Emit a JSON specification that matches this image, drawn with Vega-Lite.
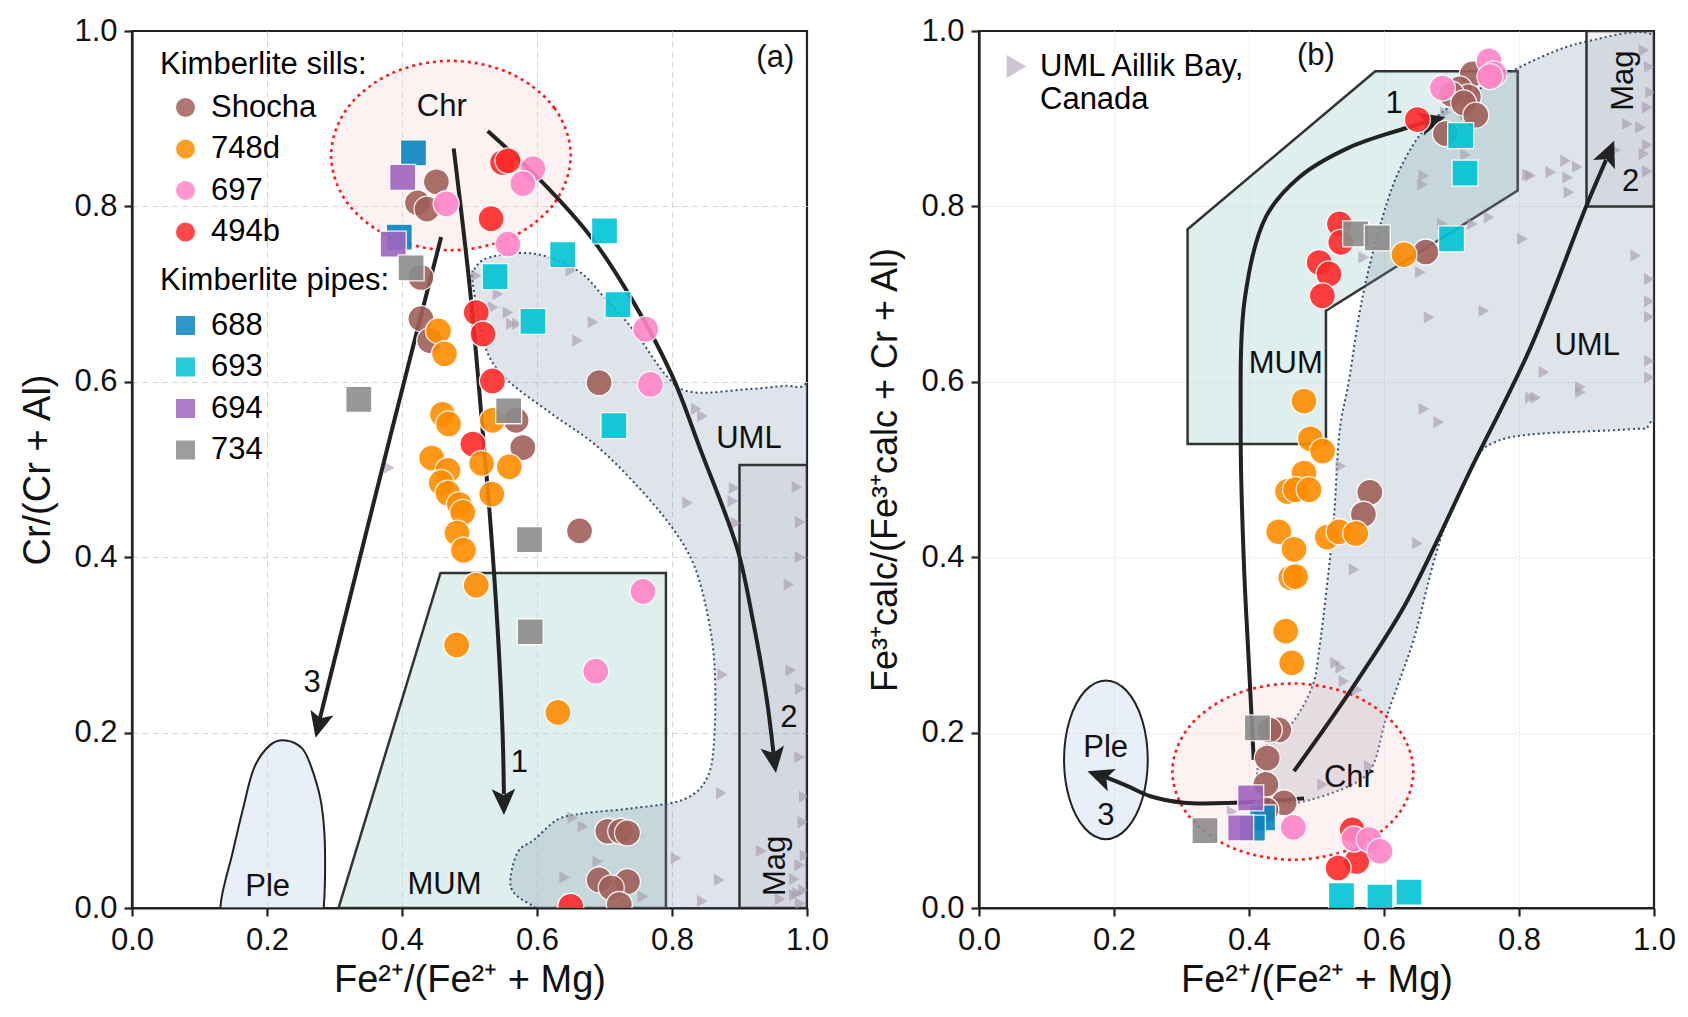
{
  "$schema": "https://vega.github.io/schema/vega-lite/v6.json",
  "background": "white",
  "padding": {"left": 18, "top": 13, "right": 5, "bottom": 5},
  "spacing": 36,
  "config": {
    "font": "Liberation Sans",
    "view": {"stroke": "#222222", "strokeWidth": 2.2},
    "axis": {
      "labelFont": "Liberation Sans", "labelFontSize": 31, "labelColor": "#111111",
      "titleFont": "Liberation Sans", "titleFontSize": 38, "titleFontWeight": "normal", "titleColor": "#111111",
      "domainColor": "#222222", "domainWidth": 2.2, "tickColor": "#222222", "tickWidth": 2.2, "tickSize": 8,
      "labelFlush": false, "labelOverlap": false,
      "gridOpacity": {"condition": {"test": "datum.value <= 0.001 || datum.value >= 0.999", "value": 0}, "value": 1}
    },
    "axisX": {"labelPadding": 9, "titlePadding": 6},
    "axisY": {"labelPadding": 7, "titlePadding": 16},
    "legend": {
      "titleFont": "Liberation Sans", "titleFontSize": 31, "titleFontWeight": "normal", "titleColor": "#000000",
      "labelFont": "Liberation Sans", "labelFontSize": 31, "labelColor": "#000000",
      "symbolSize": 420, "rowPadding": 9.5, "titlePadding": 11, "padding": 0,
      "symbolOffset": 10, "labelOffset": 10, "symbolOpacity": 0.85, "titleLimit": 500, "labelLimit": 500
    },
    "text": {"font": "Liberation Sans", "fontSize": 31, "color": "#111111"}
  },
  "datasets": {
    "pts_a": [
      {"sample":"Shocha","x":0.451,"y":0.828},{"sample":"Shocha","x":0.423,"y":0.804},{"sample":"Shocha","x":0.437,"y":0.797},
      {"sample":"Shocha","x":0.428,"y":0.719},{"sample":"Shocha","x":0.428,"y":0.672},{"sample":"Shocha","x":0.441,"y":0.647},
      {"sample":"Shocha","x":0.692,"y":0.599},{"sample":"Shocha","x":0.569,"y":0.556},{"sample":"Shocha","x":0.579,"y":0.525},
      {"sample":"Shocha","x":0.663,"y":0.430},{"sample":"Shocha","x":0.705,"y":0.0875},{"sample":"Shocha","x":0.724,"y":0.0875},
      {"sample":"Shocha","x":0.734,"y":0.0856},{"sample":"Shocha","x":0.692,"y":0.032},{"sample":"Shocha","x":0.734,"y":0.030},
      {"sample":"Shocha","x":0.710,"y":0.023},{"sample":"Shocha","x":0.722,"y":0.004},
      {"sample":"494b","x":0.549,"y":0.850},{"sample":"494b","x":0.557,"y":0.852},{"sample":"494b","x":0.532,"y":0.786},
      {"sample":"494b","x":0.510,"y":0.679},{"sample":"494b","x":0.520,"y":0.6545},{"sample":"494b","x":0.534,"y":0.601},
      {"sample":"494b","x":0.505,"y":0.529},{"sample":"494b","x":0.650,"y":0.002},
      {"sample":"748d","x":0.454,"y":0.658},{"sample":"748d","x":0.463,"y":0.632},{"sample":"748d","x":0.460,"y":0.563},
      {"sample":"748d","x":0.469,"y":0.552},{"sample":"748d","x":0.534,"y":0.556},{"sample":"748d","x":0.444,"y":0.513},
      {"sample":"748d","x":0.468,"y":0.499},{"sample":"748d","x":0.458,"y":0.485},{"sample":"748d","x":0.468,"y":0.473},
      {"sample":"748d","x":0.485,"y":0.460},{"sample":"748d","x":0.490,"y":0.451},{"sample":"748d","x":0.4815,"y":0.4275},
      {"sample":"748d","x":0.491,"y":0.408},{"sample":"748d","x":0.518,"y":0.507},{"sample":"748d","x":0.559,"y":0.503},
      {"sample":"748d","x":0.533,"y":0.472},{"sample":"748d","x":0.510,"y":0.368},{"sample":"748d","x":0.481,"y":0.300},
      {"sample":"748d","x":0.631,"y":0.223},
      {"sample":"697","x":0.4654,"y":0.803},{"sample":"697","x":0.594,"y":0.843},{"sample":"697","x":0.579,"y":0.826},
      {"sample":"697","x":0.557,"y":0.757},{"sample":"697","x":0.761,"y":0.660},{"sample":"697","x":0.768,"y":0.597},
      {"sample":"697","x":0.757,"y":0.361},{"sample":"697","x":0.687,"y":0.270},
      {"sample":"688","x":0.417,"y":0.861},{"sample":"688","x":0.396,"y":0.765},
      {"sample":"693","x":0.538,"y":0.720},{"sample":"693","x":0.638,"y":0.745},{"sample":"693","x":0.700,"y":0.772},
      {"sample":"693","x":0.594,"y":0.669},{"sample":"693","x":0.720,"y":0.688},{"sample":"693","x":0.714,"y":0.550},
      {"sample":"694","x":0.401,"y":0.833},{"sample":"694","x":0.387,"y":0.757},
      {"sample":"734","x":0.4135,"y":0.730},{"sample":"734","x":0.336,"y":0.580},{"sample":"734","x":0.558,"y":0.567},
      {"sample":"734","x":0.589,"y":0.420},{"sample":"734","x":0.590,"y":0.315}
    ],
    "pts_b": [
      {"sample":"Shocha","x":0.731,"y":0.951},{"sample":"Shocha","x":0.712,"y":0.934},{"sample":"Shocha","x":0.725,"y":0.925},
      {"sample":"Shocha","x":0.700,"y":0.928},{"sample":"Shocha","x":0.718,"y":0.918},{"sample":"Shocha","x":0.736,"y":0.904},
      {"sample":"Shocha","x":0.691,"y":0.883},{"sample":"Shocha","x":0.662,"y":0.748},{"sample":"Shocha","x":0.579,"y":0.474},
      {"sample":"Shocha","x":0.5695,"y":0.449},{"sample":"Shocha","x":0.444,"y":0.203},{"sample":"Shocha","x":0.430,"y":0.203},
      {"sample":"Shocha","x":0.427,"y":0.171},{"sample":"Shocha","x":0.425,"y":0.141},{"sample":"Shocha","x":0.452,"y":0.120},
      {"sample":"Shocha","x":0.425,"y":0.112},
      {"sample":"494b","x":0.6495,"y":0.899},{"sample":"494b","x":0.534,"y":0.780},{"sample":"494b","x":0.536,"y":0.759},
      {"sample":"494b","x":0.504,"y":0.736},{"sample":"494b","x":0.5185,"y":0.723},{"sample":"494b","x":0.5087,"y":0.698},
      {"sample":"494b","x":0.553,"y":0.089},{"sample":"494b","x":0.5596,"y":0.053},{"sample":"494b","x":0.532,"y":0.0456},
      {"sample":"748d","x":0.6296,"y":0.745},{"sample":"748d","x":0.4815,"y":0.578},{"sample":"748d","x":0.491,"y":0.535},
      {"sample":"748d","x":0.509,"y":0.521},{"sample":"748d","x":0.4815,"y":0.496},{"sample":"748d","x":0.457,"y":0.475},
      {"sample":"748d","x":0.469,"y":0.477},{"sample":"748d","x":0.489,"y":0.477},{"sample":"748d","x":0.444,"y":0.429},
      {"sample":"748d","x":0.4667,"y":0.409},{"sample":"748d","x":0.4619,"y":0.3765},{"sample":"748d","x":0.469,"y":0.378},
      {"sample":"748d","x":0.516,"y":0.423},{"sample":"748d","x":0.5333,"y":0.429},{"sample":"748d","x":0.5581,"y":0.427},
      {"sample":"748d","x":0.4544,"y":0.3157},{"sample":"748d","x":0.4633,"y":0.2795},
      {"sample":"697","x":0.7556,"y":0.966},{"sample":"697","x":0.763,"y":0.951},{"sample":"697","x":0.757,"y":0.948},
      {"sample":"697","x":0.6865,"y":0.935},{"sample":"697","x":0.4657,"y":0.092},{"sample":"697","x":0.5556,"y":0.0787},
      {"sample":"697","x":0.578,"y":0.078},{"sample":"697","x":0.594,"y":0.0647},
      {"sample":"688","x":0.420,"y":0.1027},{"sample":"688","x":0.405,"y":0.091},
      {"sample":"693","x":0.7136,"y":0.8807},{"sample":"693","x":0.720,"y":0.838},{"sample":"693","x":0.700,"y":0.763},
      {"sample":"693","x":0.537,"y":0.014},{"sample":"693","x":0.594,"y":0.0125},{"sample":"693","x":0.637,"y":0.018},
      {"sample":"694","x":0.4025,"y":0.1255},{"sample":"694","x":0.3877,"y":0.0913},
      {"sample":"734","x":0.4124,"y":0.2054},{"sample":"734","x":0.3348,"y":0.0882},{"sample":"734","x":0.558,"y":0.7686},
      {"sample":"734","x":0.590,"y":0.764}
    ],
    "uml_a": [
      {"x":0.510,"y":0.721},{"x":0.542,"y":0.700},{"x":0.535,"y":0.685},{"x":0.557,"y":0.679},{"x":0.562,"y":0.666},
      {"x":0.571,"y":0.666},{"x":0.650,"y":0.727},{"x":0.683,"y":0.668},{"x":0.660,"y":0.647},{"x":0.836,"y":0.569},
      {"x":0.845,"y":0.561},{"x":0.381,"y":0.502},{"x":0.823,"y":0.462},{"x":0.892,"y":0.479},{"x":0.890,"y":0.464},
      {"x":0.895,"y":0.439},{"x":0.875,"y":0.266},{"x":0.873,"y":0.131},{"x":0.653,"y":0.103},{"x":0.668,"y":0.093},
      {"x":0.690,"y":0.053},{"x":0.641,"y":0.035},{"x":0.757,"y":0.013},{"x":0.806,"y":0.057},{"x":0.870,"y":0.032},
      {"x":0.845,"y":0.008},{"x":0.932,"y":0.065},{"x":0.981,"y":0.033},{"x":0.986,"y":0.017},{"x":0.996,"y":0.127},
      {"x":0.749,"y":0.082},{"x":0.973,"y":0.369},{"x":0.976,"y":0.271},{"x":0.989,"y":0.172},{"x":0.994,"y":0.098},
      {"x":0.989,"y":0.049},{"x":0.981,"y":0.015},{"x":0.995,"y":0.020},{"x":0.990,"y":0.005},{"x":0.997,"y":0.060},
      {"x":0.960,"y":0.010},{"x":0.990,"y":0.400},{"x":0.990,"y":0.440},{"x":0.985,"y":0.480},{"x":0.990,"y":0.250}
    ],
    "uml_b": [
      {"x":0.691,"y":0.907},{"x":0.659,"y":0.835},{"x":0.657,"y":0.825},{"x":0.721,"y":0.859},{"x":0.8125,"y":0.836},
      {"x":0.7556,"y":0.7876},{"x":0.731,"y":0.780},{"x":0.805,"y":0.763},{"x":0.654,"y":0.725},{"x":0.570,"y":0.742},
      {"x":0.6667,"y":0.6735},{"x":0.748,"y":0.681},{"x":0.659,"y":0.569},{"x":0.681,"y":0.554},{"x":0.6865,"y":0.780},
      {"x":0.825,"y":0.582},{"x":0.985,"y":0.978},{"x":0.993,"y":0.959},{"x":0.990,"y":0.913},{"x":0.9605,"y":0.894},
      {"x":0.980,"y":0.890},{"x":0.985,"y":0.860},{"x":0.943,"y":0.864},{"x":0.869,"y":0.852},{"x":0.8865,"y":0.845},
      {"x":0.847,"y":0.839},{"x":0.872,"y":0.833},{"x":0.874,"y":0.816},{"x":0.817,"y":0.835},{"x":0.973,"y":0.744},
      {"x":0.993,"y":0.717},{"x":0.993,"y":0.692},{"x":0.993,"y":0.674},{"x":0.993,"y":0.624},{"x":0.993,"y":0.605},
      {"x":0.837,"y":0.611},{"x":0.891,"y":0.594},{"x":0.891,"y":0.588},{"x":0.817,"y":0.582},{"x":0.536,"y":0.504},
      {"x":0.6495,"y":0.416},{"x":0.5556,"y":0.386},{"x":0.528,"y":0.2795},{"x":0.536,"y":0.274},{"x":0.5407,"y":0.2586},
      {"x":0.5605,"y":0.249},{"x":0.578,"y":0.1617},{"x":0.509,"y":0.1407},{"x":0.375,"y":0.110},{"x":0.990,"y":0.870},
      {"x":0.990,"y":0.840},{"x":0.995,"y":0.930},{"x":0.720,"y":0.905}
    ],
    "regions": [
      {"shape":"Ple_a","i":1,"x":0.228,"y":0.191},{"shape":"Ple_a","i":2,"x":0.252,"y":0.182},{"shape":"Ple_a","i":3,"x":0.265,"y":0.162},
      {"shape":"Ple_a","i":4,"x":0.279,"y":0.125},{"shape":"Ple_a","i":5,"x":0.285,"y":0.086},{"shape":"Ple_a","i":6,"x":0.286,"y":0.040},
      {"shape":"Ple_a","i":7,"x":0.284,"y":0.0},{"shape":"Ple_a","i":8,"x":0.278,"y":-0.04},{"shape":"Ple_a","i":9,"x":0.21,"y":-0.065},
      {"shape":"Ple_a","i":10,"x":0.145,"y":-0.045},{"shape":"Ple_a","i":11,"x":0.131,"y":0.0},{"shape":"Ple_a","i":12,"x":0.149,"y":0.063},
      {"shape":"Ple_a","i":13,"x":0.165,"y":0.115},{"shape":"Ple_a","i":14,"x":0.181,"y":0.160},{"shape":"Ple_a","i":15,"x":0.205,"y":0.186},
      {"shape":"MUM_a","i":1,"x":0.306,"y":0.0},{"shape":"MUM_a","i":2,"x":0.457,"y":0.382},{"shape":"MUM_a","i":3,"x":0.791,"y":0.382},
      {"shape":"MUM_a","i":4,"x":0.791,"y":0.0},
      {"shape":"UML_a","i":1,"x":0.505,"y":0.712},{"shape":"UML_a","i":2,"x":0.507,"y":0.728},{"shape":"UML_a","i":3,"x":0.530,"y":0.742},
      {"shape":"UML_a","i":4,"x":0.596,"y":0.746},{"shape":"UML_a","i":5,"x":0.660,"y":0.727},{"shape":"UML_a","i":6,"x":0.700,"y":0.696},
      {"shape":"UML_a","i":7,"x":0.744,"y":0.658},{"shape":"UML_a","i":8,"x":0.794,"y":0.605},{"shape":"UML_a","i":9,"x":0.833,"y":0.588},
      {"shape":"UML_a","i":10,"x":0.920,"y":0.592},{"shape":"UML_a","i":11,"x":0.985,"y":0.594},{"shape":"UML_a","i":12,"x":1.01,"y":0.57},
      {"shape":"UML_a","i":13,"x":1.01,"y":0.30},{"shape":"UML_a","i":14,"x":1.01,"y":-0.01},{"shape":"UML_a","i":15,"x":0.80,"y":-0.01},
      {"shape":"UML_a","i":16,"x":0.631,"y":-0.005},{"shape":"UML_a","i":17,"x":0.586,"y":0.006},{"shape":"UML_a","i":18,"x":0.561,"y":0.025},
      {"shape":"UML_a","i":19,"x":0.571,"y":0.063},{"shape":"UML_a","i":20,"x":0.596,"y":0.078},{"shape":"UML_a","i":21,"x":0.631,"y":0.101},
      {"shape":"UML_a","i":22,"x":0.670,"y":0.108},{"shape":"UML_a","i":23,"x":0.744,"y":0.114},{"shape":"UML_a","i":24,"x":0.818,"y":0.124},
      {"shape":"UML_a","i":25,"x":0.853,"y":0.150},{"shape":"UML_a","i":26,"x":0.863,"y":0.200},{"shape":"UML_a","i":27,"x":0.863,"y":0.276},
      {"shape":"UML_a","i":28,"x":0.853,"y":0.333},{"shape":"UML_a","i":29,"x":0.833,"y":0.390},{"shape":"UML_a","i":30,"x":0.799,"y":0.435},
      {"shape":"UML_a","i":31,"x":0.744,"y":0.485},{"shape":"UML_a","i":32,"x":0.685,"y":0.529},{"shape":"UML_a","i":33,"x":0.621,"y":0.564},
      {"shape":"UML_a","i":34,"x":0.552,"y":0.605},{"shape":"UML_a","i":35,"x":0.522,"y":0.643},
      {"shape":"Mag_a","i":1,"x":0.9,"y":0.0},{"shape":"Mag_a","i":2,"x":0.9,"y":0.505},{"shape":"Mag_a","i":3,"x":1.0,"y":0.505},
      {"shape":"Mag_a","i":4,"x":1.0,"y":0.0},
      {"shape":"Chr_a","i":1,"x":0.650,"y":0.858},{"shape":"Chr_a","i":2,"x":0.626,"y":0.912},{"shape":"Chr_a","i":3,"x":0.561,"y":0.9515},
      {"shape":"Chr_a","i":4,"x":0.4725,"y":0.966},{"shape":"Chr_a","i":5,"x":0.384,"y":0.9515},{"shape":"Chr_a","i":6,"x":0.319,"y":0.912},
      {"shape":"Chr_a","i":7,"x":0.295,"y":0.858},{"shape":"Chr_a","i":8,"x":0.319,"y":0.804},{"shape":"Chr_a","i":9,"x":0.384,"y":0.7645},
      {"shape":"Chr_a","i":10,"x":0.4725,"y":0.750},{"shape":"Chr_a","i":11,"x":0.561,"y":0.7645},{"shape":"Chr_a","i":12,"x":0.626,"y":0.804},
      {"shape":"MUM_b","i":1,"x":0.309,"y":0.774},{"shape":"MUM_b","i":2,"x":0.587,"y":0.954},{"shape":"MUM_b","i":3,"x":0.798,"y":0.954},
      {"shape":"MUM_b","i":4,"x":0.798,"y":0.818},{"shape":"MUM_b","i":5,"x":0.514,"y":0.681},{"shape":"MUM_b","i":6,"x":0.514,"y":0.529},
      {"shape":"MUM_b","i":7,"x":0.309,"y":0.529},
      {"shape":"UML_b","i":1,"x":0.994,"y":0.997},{"shape":"UML_b","i":2,"x":0.90,"y":0.988},{"shape":"UML_b","i":3,"x":0.832,"y":0.970},
      {"shape":"UML_b","i":4,"x":0.746,"y":0.936},{"shape":"UML_b","i":5,"x":0.672,"y":0.898},{"shape":"UML_b","i":6,"x":0.627,"y":0.848},
      {"shape":"UML_b","i":7,"x":0.598,"y":0.788},{"shape":"UML_b","i":8,"x":0.568,"y":0.696},{"shape":"UML_b","i":9,"x":0.548,"y":0.601},
      {"shape":"UML_b","i":10,"x":0.534,"y":0.542},{"shape":"UML_b","i":11,"x":0.526,"y":0.447},{"shape":"UML_b","i":12,"x":0.516,"y":0.371},
      {"shape":"UML_b","i":13,"x":0.504,"y":0.295},{"shape":"UML_b","i":14,"x":0.494,"y":0.253},{"shape":"UML_b","i":15,"x":0.464,"y":0.211},
      {"shape":"UML_b","i":16,"x":0.430,"y":0.190},{"shape":"UML_b","i":17,"x":0.412,"y":0.155},{"shape":"UML_b","i":18,"x":0.425,"y":0.127},
      {"shape":"UML_b","i":19,"x":0.470,"y":0.120},{"shape":"UML_b","i":20,"x":0.548,"y":0.139},{"shape":"UML_b","i":21,"x":0.583,"y":0.162},
      {"shape":"UML_b","i":22,"x":0.6025,"y":0.215},{"shape":"UML_b","i":23,"x":0.627,"y":0.268},{"shape":"UML_b","i":24,"x":0.647,"y":0.314},
      {"shape":"UML_b","i":25,"x":0.672,"y":0.390},{"shape":"UML_b","i":26,"x":0.696,"y":0.447},{"shape":"UML_b","i":27,"x":0.736,"y":0.511},
      {"shape":"UML_b","i":28,"x":0.761,"y":0.530},{"shape":"UML_b","i":29,"x":0.817,"y":0.540},{"shape":"UML_b","i":30,"x":0.965,"y":0.546},
      {"shape":"UML_b","i":31,"x":0.993,"y":0.552},{"shape":"UML_b","i":32,"x":1.005,"y":0.60},{"shape":"UML_b","i":33,"x":1.005,"y":0.95},
      {"shape":"Mag_b","i":1,"x":0.9,"y":0.8},{"shape":"Mag_b","i":2,"x":0.9,"y":1.0},{"shape":"Mag_b","i":3,"x":1.0,"y":1.0},
      {"shape":"Mag_b","i":4,"x":1.0,"y":0.8},
      {"shape":"Ple_b","i":1,"x":0.250,"y":0.169},{"shape":"Ple_b","i":2,"x":0.2417,"y":0.2143},{"shape":"Ple_b","i":3,"x":0.219,"y":0.2474},
      {"shape":"Ple_b","i":4,"x":0.188,"y":0.2595},{"shape":"Ple_b","i":5,"x":0.157,"y":0.2474},{"shape":"Ple_b","i":6,"x":0.1343,"y":0.2143},
      {"shape":"Ple_b","i":7,"x":0.126,"y":0.169},{"shape":"Ple_b","i":8,"x":0.1343,"y":0.1237},{"shape":"Ple_b","i":9,"x":0.157,"y":0.0906},
      {"shape":"Ple_b","i":10,"x":0.188,"y":0.0785},{"shape":"Ple_b","i":11,"x":0.219,"y":0.0906},{"shape":"Ple_b","i":12,"x":0.2417,"y":0.1237},
      {"shape":"Chr_b","i":1,"x":0.6435,"y":0.1555},{"shape":"Chr_b","i":2,"x":0.6196,"y":0.2058},{"shape":"Chr_b","i":3,"x":0.5543,"y":0.2425},
      {"shape":"Chr_b","i":4,"x":0.465,"y":0.256},{"shape":"Chr_b","i":5,"x":0.3757,"y":0.2425},{"shape":"Chr_b","i":6,"x":0.3104,"y":0.2058},
      {"shape":"Chr_b","i":7,"x":0.2865,"y":0.1555},{"shape":"Chr_b","i":8,"x":0.3104,"y":0.1052},{"shape":"Chr_b","i":9,"x":0.3757,"y":0.0685},
      {"shape":"Chr_b","i":10,"x":0.465,"y":0.055},{"shape":"Chr_b","i":11,"x":0.5543,"y":0.0685},{"shape":"Chr_b","i":12,"x":0.6196,"y":0.1052}
    ],
    "arrows": [
      {"panel":"a","arrow":"a1","i":1,"x":0.4766,"y":0.866},{"panel":"a","arrow":"a1","i":2,"x":0.502,"y":0.696},
      {"panel":"a","arrow":"a1","i":3,"x":0.522,"y":0.521},{"panel":"a","arrow":"a1","i":4,"x":0.5295,"y":0.454},
      {"panel":"a","arrow":"a1","i":5,"x":0.542,"y":0.314},{"panel":"a","arrow":"a1","i":6,"x":0.549,"y":0.200},
      {"panel":"a","arrow":"a1","i":7,"x":0.551,"y":0.130},
      {"panel":"a","arrow":"a2","i":1,"x":0.527,"y":0.886},{"panel":"a","arrow":"a2","i":2,"x":0.606,"y":0.829},
      {"panel":"a","arrow":"a2","i":3,"x":0.680,"y":0.765},{"panel":"a","arrow":"a2","i":4,"x":0.739,"y":0.696},
      {"panel":"a","arrow":"a2","i":5,"x":0.799,"y":0.609},{"panel":"a","arrow":"a2","i":6,"x":0.843,"y":0.521},
      {"panel":"a","arrow":"a2","i":7,"x":0.897,"y":0.409},{"panel":"a","arrow":"a2","i":8,"x":0.9196,"y":0.329},
      {"panel":"a","arrow":"a2","i":9,"x":0.940,"y":0.240},{"panel":"a","arrow":"a2","i":10,"x":0.951,"y":0.172},
      {"panel":"a","arrow":"a3","i":1,"x":0.458,"y":0.765},{"panel":"a","arrow":"a3","i":2,"x":0.384,"y":0.542},
      {"panel":"a","arrow":"a3","i":3,"x":0.278,"y":0.215},
      {"panel":"b","arrow":"b1","i":1,"x":0.407,"y":0.169},{"panel":"b","arrow":"b1","i":2,"x":0.400,"y":0.276},
      {"panel":"b","arrow":"b1","i":3,"x":0.3926,"y":0.390},{"panel":"b","arrow":"b1","i":4,"x":0.3877,"y":0.542},
      {"panel":"b","arrow":"b1","i":5,"x":0.394,"y":0.696},{"panel":"b","arrow":"b1","i":6,"x":0.425,"y":0.788},
      {"panel":"b","arrow":"b1","i":7,"x":0.474,"y":0.833},{"panel":"b","arrow":"b1","i":8,"x":0.548,"y":0.867},
      {"panel":"b","arrow":"b1","i":9,"x":0.627,"y":0.888},{"panel":"b","arrow":"b1","i":10,"x":0.670,"y":0.898},
      {"panel":"b","arrow":"b2","i":1,"x":0.4667,"y":0.156},{"panel":"b","arrow":"b2","i":2,"x":0.548,"y":0.245},
      {"panel":"b","arrow":"b2","i":3,"x":0.627,"y":0.340},{"panel":"b","arrow":"b2","i":4,"x":0.677,"y":0.416},
      {"panel":"b","arrow":"b2","i":5,"x":0.726,"y":0.496},{"panel":"b","arrow":"b2","i":6,"x":0.817,"y":0.639},
      {"panel":"b","arrow":"b2","i":7,"x":0.899,"y":0.799},{"panel":"b","arrow":"b2","i":8,"x":0.929,"y":0.853},
      {"panel":"b","arrow":"b3","i":1,"x":0.4815,"y":0.125},{"panel":"b","arrow":"b3","i":2,"x":0.430,"y":0.122},
      {"panel":"b","arrow":"b3","i":3,"x":0.380,"y":0.120},{"panel":"b","arrow":"b3","i":4,"x":0.3037,"y":0.120},
      {"panel":"b","arrow":"b3","i":5,"x":0.254,"y":0.1274},{"panel":"b","arrow":"b3","i":6,"x":0.220,"y":0.139},
      {"panel":"b","arrow":"b3","i":7,"x":0.185,"y":0.150}
    ],
    "heads": [
      {"panel":"a","arrow":"a1","x":0.551,"y":0.106,"dir":179},
      {"panel":"a","arrow":"a2","x":0.954,"y":0.154,"dir":172},
      {"panel":"a","arrow":"a3","x":0.272,"y":0.194,"dir":194},
      {"panel":"b","arrow":"b1","x":0.691,"y":0.902,"dir":74},
      {"panel":"b","arrow":"b2","x":0.941,"y":0.875,"dir":23},
      {"panel":"b","arrow":"b3","x":0.1606,"y":0.156,"dir":290}
    ],
    "labels": [
      {"panel":"a","label":"Chr","x":0.459,"y":0.913},{"panel":"a","label":"(a)","x":0.953,"y":0.969},
      {"panel":"a","label":"UML","x":0.914,"y":0.535},{"panel":"a","label":"MUM","x":0.463,"y":0.026},
      {"panel":"a","label":"Ple","x":0.201,"y":0.024},{"panel":"a","label":"1","x":0.574,"y":0.165},
      {"panel":"a","label":"2","x":0.973,"y":0.217},{"panel":"a","label":"3","x":0.267,"y":0.257},
      {"panel":"a","label":"Mag","x":0.954,"y":0.048},
      {"panel":"b","label":"(b)","x":0.499,"y":0.972},{"panel":"b","label":"UML","x":0.901,"y":0.641},
      {"panel":"b","label":"Chr","x":0.548,"y":0.148},{"panel":"b","label":"MUM","x":0.4545,"y":0.620},
      {"panel":"b","label":"Ple","x":0.1877,"y":0.1825},{"panel":"b","label":"1","x":0.615,"y":0.917},
      {"panel":"b","label":"2","x":0.9655,"y":0.8275},{"panel":"b","label":"3","x":0.188,"y":0.1046},
      {"panel":"b","label":"Mag","x":0.955,"y":0.9435}
    ]
  },
  "hconcat": [
    {
      "width": 675,
      "height": 877,
      "encoding": {
        "x": {"field": "x", "type": "quantitative", "scale": {"domain": [0, 1], "nice": false, "zero": false},
              "axis": {"title": "Fe²⁺/(Fe²⁺ + Mg)", "values": [0, 0.2, 0.4, 0.6, 0.8, 1], "format": ".1f", "gridDash": [6, 4], "gridColor": "#d6d6d6", "gridWidth": 1}},
        "y": {"field": "y", "type": "quantitative", "scale": {"domain": [0, 1], "nice": false, "zero": false},
              "axis": {"title": "Cr/(Cr + Al)", "values": [0, 0.2, 0.4, 0.6, 0.8, 1], "format": ".1f", "gridDash": [6, 4], "gridColor": "#d6d6d6", "gridWidth": 1}}
      },
      "layer": [
        {"data": {"name": "regions"}, "transform": [{"filter": "datum.shape === 'Ple_a'"}],
         "mark": {"type": "line", "interpolate": "cardinal-closed", "fill": "#c8d6f0", "fillOpacity": 0.4, "stroke": "#222222", "strokeWidth": 2, "clip": true},
         "encoding": {"order": {"field": "i", "type": "quantitative"}}},
        {"data": {"name": "regions"}, "transform": [{"filter": "datum.shape === 'MUM_a'"}],
         "mark": {"type": "line", "interpolate": "linear-closed", "fill": "#b5dcd6", "fillOpacity": 0.45, "stroke": "#333333", "strokeWidth": 2.5, "clip": true},
         "encoding": {"order": {"field": "i", "type": "quantitative"}}},
        {"data": {"name": "regions"}, "transform": [{"filter": "datum.shape === 'UML_a'"}],
         "mark": {"type": "line", "interpolate": "cardinal-closed", "fill": "#8493ae", "fillOpacity": 0.26, "stroke": "#2d4a6a", "strokeWidth": 2, "strokeDash": [2, 3], "clip": true},
         "encoding": {"order": {"field": "i", "type": "quantitative"}}},
        {"data": {"name": "regions"}, "transform": [{"filter": "datum.shape === 'Mag_a'"}],
         "mark": {"type": "line", "interpolate": "linear-closed", "fill": "#8a8f9a", "fillOpacity": 0.12, "stroke": "#333333", "strokeWidth": 2.5, "clip": true},
         "encoding": {"order": {"field": "i", "type": "quantitative"}}},
        {"data": {"name": "regions"}, "transform": [{"filter": "datum.shape === 'Chr_a'"}],
         "mark": {"type": "line", "interpolate": "cardinal-closed", "fill": "#f8c8c8", "fillOpacity": 0.25, "stroke": "#ff1a1a", "strokeWidth": 2.6, "strokeDash": [3, 4], "clip": true},
         "encoding": {"order": {"field": "i", "type": "quantitative"}}},
        {"data": {"name": "uml_a"},
         "mark": {"type": "point", "shape": "triangle-right", "filled": true, "size": 150, "color": "#a796ad", "opacity": 0.6, "clip": true}},
        {"data": {"name": "arrows"}, "transform": [{"filter": "datum.panel === 'a'"}],
         "mark": {"type": "line", "interpolate": "catmull-rom", "stroke": "#222222", "strokeWidth": 4, "clip": true},
         "encoding": {"detail": {"field": "arrow"}, "order": {"field": "i", "type": "quantitative"}}},
        {"data": {"name": "heads"}, "transform": [{"filter": "datum.panel === 'a'"}],
         "mark": {"type": "point", "shape": "M0,0L0.5,1.1L0,0.85L-0.5,1.1Z", "filled": true, "size": 2240, "color": "#222222", "opacity": 1},
         "encoding": {"angle": {"field": "dir", "type": "quantitative", "scale": null}}},
        {"data": {"name": "pts_a"}, "transform": [{"filter": {"field": "sample", "oneOf": ["Shocha", "748d", "697", "494b"]}}],
         "mark": {"type": "point", "shape": "circle", "filled": true, "size": 676, "stroke": "white", "strokeWidth": 1.3, "opacity": 0.9, "clip": true},
         "encoding": {"color": {"field": "sample", "type": "nominal",
           "scale": {"domain": ["Shocha", "748d", "697", "494b"], "range": ["#a0605a", "#ff8c00", "#ff85c8", "#ff2a2a"]},
           "legend": {"title": "Kimberlite sills:", "orient": "none", "legendX": 28, "legendY": 19, "symbolType": "circle"}}}},
        {"data": {"name": "pts_a"}, "transform": [{"filter": {"field": "sample", "oneOf": ["688", "693", "694", "734"]}}],
         "mark": {"type": "point", "shape": "square", "filled": true, "size": 676, "stroke": "white", "strokeWidth": 1.3, "opacity": 0.9, "clip": true},
         "encoding": {"color": {"field": "sample", "type": "nominal",
           "scale": {"domain": ["688", "693", "694", "734"], "range": ["#0a84c0", "#00c5d5", "#a064be", "#8c8c8c"]},
           "legend": {"title": "Kimberlite pipes:", "orient": "none", "legendX": 28, "legendY": 235, "symbolType": "square", "titlePadding": 13}}}},
        {"data": {"name": "labels"}, "transform": [{"filter": "datum.panel === 'a' && datum.label !== 'Mag'"}],
         "mark": {"type": "text", "fontSize": 31, "align": "center", "baseline": "middle"},
         "encoding": {"text": {"field": "label"}}},
        {"data": {"name": "labels"}, "transform": [{"filter": "datum.panel === 'a' && datum.label === 'Mag'"}],
         "mark": {"type": "text", "fontSize": 31, "align": "center", "baseline": "middle", "angle": 270},
         "encoding": {"text": {"field": "label"}}}
      ],
      "resolve": {"scale": {"color": "independent"}}
    },
    {
      "width": 675,
      "height": 877,
      "encoding": {
        "x": {"field": "x", "type": "quantitative", "scale": {"domain": [0, 1], "nice": false, "zero": false},
              "axis": {"title": "Fe²⁺/(Fe²⁺ + Mg)", "values": [0, 0.2, 0.4, 0.6, 0.8, 1], "format": ".1f", "gridDash": [2, 2], "gridColor": "#e2e2e2", "gridWidth": 1}},
        "y": {"field": "y", "type": "quantitative", "scale": {"domain": [0, 1], "nice": false, "zero": false},
              "axis": {"title": "Fe³⁺calc/(Fe³⁺calc + Cr + Al)", "titleFontSize": 36, "values": [0, 0.2, 0.4, 0.6, 0.8, 1], "format": ".1f", "gridDash": [2, 2], "gridColor": "#e2e2e2", "gridWidth": 1}}
      },
      "layer": [
        {"data": {"name": "regions"}, "transform": [{"filter": "datum.shape === 'MUM_b'"}],
         "mark": {"type": "line", "interpolate": "linear-closed", "fill": "#b5dcd6", "fillOpacity": 0.45, "stroke": "#333333", "strokeWidth": 2.5, "clip": true},
         "encoding": {"order": {"field": "i", "type": "quantitative"}}},
        {"data": {"name": "regions"}, "transform": [{"filter": "datum.shape === 'UML_b'"}],
         "mark": {"type": "line", "interpolate": "cardinal-closed", "fill": "#8493ae", "fillOpacity": 0.26, "stroke": "#2d4a6a", "strokeWidth": 2, "strokeDash": [2, 3], "clip": true},
         "encoding": {"order": {"field": "i", "type": "quantitative"}}},
        {"data": {"name": "regions"}, "transform": [{"filter": "datum.shape === 'Mag_b'"}],
         "mark": {"type": "line", "interpolate": "linear-closed", "fill": "#8a8f9a", "fillOpacity": 0.12, "stroke": "#333333", "strokeWidth": 2.5, "clip": true},
         "encoding": {"order": {"field": "i", "type": "quantitative"}}},
        {"data": {"name": "regions"}, "transform": [{"filter": "datum.shape === 'Ple_b'"}],
         "mark": {"type": "line", "interpolate": "cardinal-closed", "fill": "#c8d6f0", "fillOpacity": 0.4, "stroke": "#222222", "strokeWidth": 2, "clip": true},
         "encoding": {"order": {"field": "i", "type": "quantitative"}}},
        {"data": {"name": "regions"}, "transform": [{"filter": "datum.shape === 'Chr_b'"}],
         "mark": {"type": "line", "interpolate": "cardinal-closed", "fill": "#f8c8c8", "fillOpacity": 0.25, "stroke": "#ff1a1a", "strokeWidth": 2.6, "strokeDash": [3, 4], "clip": true},
         "encoding": {"order": {"field": "i", "type": "quantitative"}}},
        {"data": {"name": "uml_b"},
         "mark": {"type": "point", "shape": "triangle-right", "filled": true, "size": 150, "opacity": 0.6, "clip": true},
         "encoding": {"color": {"datum": "UML", "type": "nominal", "scale": {"domain": ["UML"], "range": ["#a796ad"]},
           "legend": {"title": null, "orient": "none", "legendX": 22, "legendY": 20, "symbolType": "triangle-right", "symbolSize": 520, "symbolOffset": 0, "labelOffset": 8, "symbolOpacity": 0.55,
                      "labelExpr": "['UML Aillik Bay,', 'Canada']"}}}},
        {"data": {"name": "arrows"}, "transform": [{"filter": "datum.panel === 'b'"}],
         "mark": {"type": "line", "interpolate": "catmull-rom", "stroke": "#222222", "strokeWidth": 4, "clip": true},
         "encoding": {"detail": {"field": "arrow"}, "order": {"field": "i", "type": "quantitative"}}},
        {"data": {"name": "heads"}, "transform": [{"filter": "datum.panel === 'b'"}],
         "mark": {"type": "point", "shape": "M0,0L0.5,1.1L0,0.85L-0.5,1.1Z", "filled": true, "size": 2240, "color": "#222222", "opacity": 1},
         "encoding": {"angle": {"field": "dir", "type": "quantitative", "scale": null}}},
        {"data": {"name": "pts_b"}, "transform": [{"filter": {"field": "sample", "oneOf": ["Shocha", "748d", "697", "494b"]}}],
         "mark": {"type": "point", "shape": "circle", "filled": true, "size": 676, "stroke": "white", "strokeWidth": 1.3, "opacity": 0.9, "clip": true},
         "encoding": {"color": {"field": "sample", "type": "nominal",
           "scale": {"domain": ["Shocha", "748d", "697", "494b"], "range": ["#a0605a", "#ff8c00", "#ff85c8", "#ff2a2a"]}, "legend": null}}},
        {"data": {"name": "pts_b"}, "transform": [{"filter": {"field": "sample", "oneOf": ["688", "693", "694", "734"]}}],
         "mark": {"type": "point", "shape": "square", "filled": true, "size": 676, "stroke": "white", "strokeWidth": 1.3, "opacity": 0.9, "clip": true},
         "encoding": {"color": {"field": "sample", "type": "nominal",
           "scale": {"domain": ["688", "693", "694", "734"], "range": ["#0a84c0", "#00c5d5", "#a064be", "#8c8c8c"]}, "legend": null}}},
        {"data": {"name": "labels"}, "transform": [{"filter": "datum.panel === 'b' && datum.label !== 'Mag'"}],
         "mark": {"type": "text", "fontSize": 31, "align": "center", "baseline": "middle"},
         "encoding": {"text": {"field": "label"}}},
        {"data": {"name": "labels"}, "transform": [{"filter": "datum.panel === 'b' && datum.label === 'Mag'"}],
         "mark": {"type": "text", "fontSize": 31, "align": "center", "baseline": "middle", "angle": 270},
         "encoding": {"text": {"field": "label"}}}
      ],
      "resolve": {"scale": {"color": "independent"}}
    }
  ]
}
